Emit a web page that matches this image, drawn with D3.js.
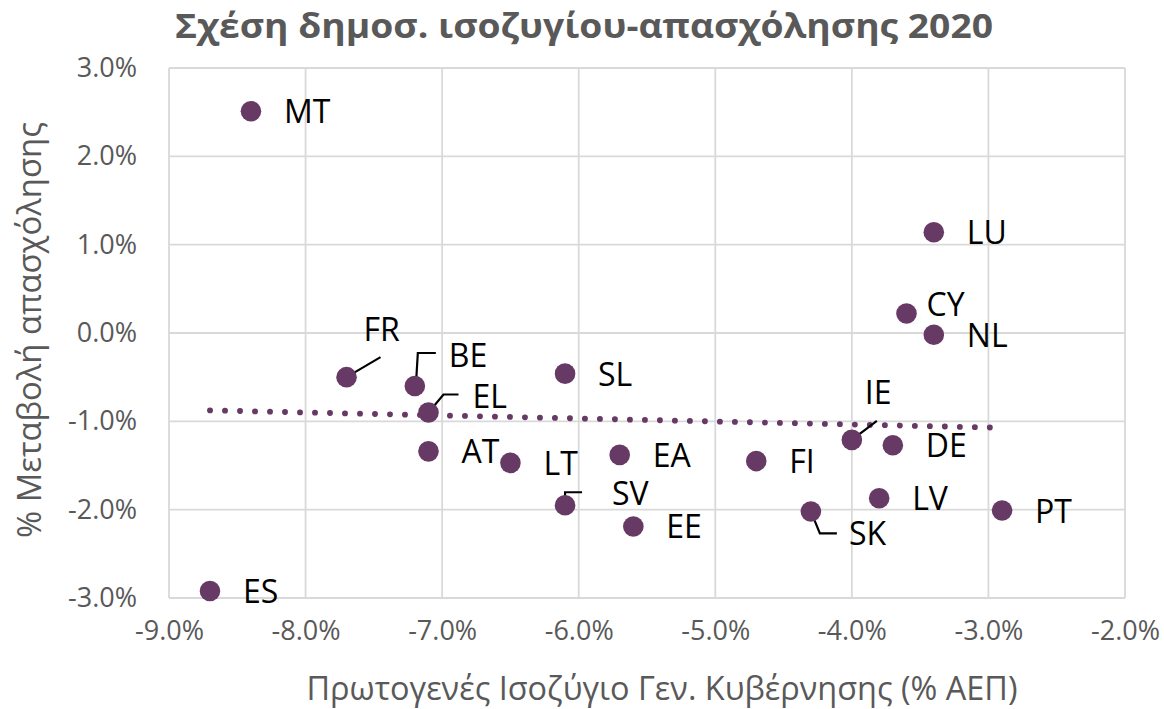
<!DOCTYPE html>
<html>
<head>
<meta charset="utf-8">
<script src="https://cdn.jsdelivr.net/npm/d3@7"></script>
<style>
  body { margin: 0; background: #fff; }
  text { font-family: "Open Sans", "Noto Sans", sans-serif; }
</style>
</head>
<body>
<div id="chart"></div>
<script>
// country codes, primary balance (% GDP) and change in employment (%)
var countries = ["MT", "ES", "FR", "BE", "EL", "AT", "LT", "SL", "SV", "EA",
                 "EE", "LU", "CY", "NL", "IE", "DE", "FI", "LV", "SK", "PT"];
var balance = [-8.4, -8.7, -7.7, -7.2, -7.1, -7.1, -6.5, -6.1, -6.1, -5.7,
               -5.6, -3.4, -3.6, -3.4, -4.0, -3.7, -4.7, -3.8, -4.3, -2.9];
var employment = [2.51, -2.92, -0.50, -0.60, -0.90, -1.34, -1.47, -0.46, -1.95, -1.38,
                  -2.19, 1.14, 0.22, -0.02, -1.21, -1.27, -1.45, -1.87, -2.02, -2.01];
var xTicks = [-9, -8, -7, -6, -5, -4, -3, -2];
var yTicks = [3, 2, 1, 0, -1, -2, -3];

var title = "Σχέση δημοσ. ισοζυγίου-απασχόλησης 2020";
var xTitle = "Πρωτογενές Ισοζύγιο Γεν. Κυβέρνησης (% ΑΕΠ)";
var yTitle = "% Μεταβολή απασχόλησης";

// label placement (dx, dy from point); default is right of the point
var labelPos = {
  FR: [17, -36], BE: [34, -19], EL: [44, -5], SV: [47, 0],
  CY: [20, 2], IE: [13, -36], SK: [38, 34]
};
// leader lines, as offsets from the point
var leaders = {
  FR: [[0, 0], [34, -20]],
  BE: [[1, 0], [3, -33], [21, -33]],
  EL: [[0, 0], [15, -18], [30, -18]],
  SV: [[0, 0], [0, -13], [17, -13]],
  IE: [[0, 0], [25, -19]],
  SK: [[0, 0], [9, 22], [26, 22]]
};

var width = 1164, height = 709;
var margin = {left: 169, right: 39, top: 68, bottom: 111};
var col = "#673965", grey = "#595959", gridCol = "#d9d9d9";
var pct = function (d) { return d.toFixed(1) + "%"; };

var svg = d3.select("#chart").append("svg")
            .attr("width", width)
            .attr("height", height);

svg.append("rect").attr("width", width).attr("height", height).attr("fill", "#fff");

var x = d3.scaleLinear().domain([-9, -2]).range([margin.left, width - margin.right]);
var y = d3.scaleLinear().domain([-3, 3]).range([height - margin.bottom, margin.top]);

// gridlines
svg.append("g").selectAll("line").data(xTicks).enter().append("line")
   .attr("x1", d => x(d)).attr("x2", d => x(d))
   .attr("y1", y(3)).attr("y2", y(-3))
   .attr("stroke", gridCol).attr("stroke-width", 1.8);
svg.append("g").selectAll("line").data(yTicks).enter().append("line")
   .attr("x1", x(-9)).attr("x2", x(-2))
   .attr("y1", d => y(d)).attr("y2", d => y(d))
   .attr("stroke", gridCol).attr("stroke-width", 1.8);

// axes (labels only)
var xAxis = svg.append("g")
               .attr("transform", "translate(0," + y(-3) + ")")
               .call(d3.axisBottom(x).tickValues(xTicks).tickSize(0).tickPadding(33)
                       .tickFormat(pct));
var yAxis = svg.append("g")
               .attr("transform", "translate(" + x(-9) + ",0)")
               .call(d3.axisLeft(y).tickValues(yTicks).tickSize(0).tickPadding(32)
                       .tickFormat(pct));
[xAxis, yAxis].forEach(function (a) {
  a.select(".domain").remove();
  a.selectAll("text").attr("fill", grey).attr("font-size", "27px")
   .style("font-family", "'Open Sans'");
});
xAxis.selectAll("text").attr("dy", "0.35em");

// trend line (least squares on the points)
var pts = balance.map((b, i) => [b, employment[i]]);
var mx = d3.mean(pts, d => d[0]), my = d3.mean(pts, d => d[1]);
var slope = d3.sum(pts, d => (d[0] - mx) * (d[1] - my)) / d3.sum(pts, d => (d[0] - mx) * (d[0] - mx));
var x0 = d3.min(balance), x1 = d3.max(balance);
svg.append("line")
   .attr("x1", x(x0)).attr("y1", y(my + slope * (x0 - mx)))
   .attr("x2", x(x1)).attr("y2", y(my + slope * (x1 - mx)))
   .attr("stroke", col).attr("stroke-width", 5.8)
   .attr("stroke-linecap", "round")
   .attr("stroke-dasharray", "0.1 14.9");

// leader lines
countries.forEach(function (c, i) {
  if (!leaders[c]) return;
  var px = x(balance[i]), py = y(employment[i]);
  svg.append("path")
     .attr("d", d3.line()(leaders[c].map(p => [px + p[0], py + p[1]])))
     .attr("fill", "none").attr("stroke", "#000").attr("stroke-width", 2.2);
});

// points
svg.append("g").selectAll("circle").data(countries).enter().append("circle")
   .attr("cx", (d, i) => x(balance[i]))
   .attr("cy", (d, i) => y(employment[i]))
   .attr("r", 10.3)
   .attr("fill", col);

// data labels
svg.append("g").selectAll("text").data(countries).enter().append("text")
   .attr("x", (d, i) => x(balance[i]) + (labelPos[d] ? labelPos[d][0] : 33))
   .attr("y", (d, i) => y(employment[i]) + (labelPos[d] ? labelPos[d][1] : 12))
   .attr("font-size", "32px")
   .attr("fill", "#000")
   .text(d => d);

// titles
svg.append("text")
   .attr("x", 584).attr("y", 38)
   .attr("text-anchor", "middle")
   .attr("font-size", "34px").attr("font-weight", "bold")
   .attr("textLength", 818).attr("lengthAdjust", "spacingAndGlyphs")
   .attr("fill", grey)
   .text(title);

svg.append("text")
   .attr("x", 662).attr("y", 700)
   .attr("text-anchor", "middle")
   .attr("font-size", "32px")
   .attr("textLength", 711).attr("lengthAdjust", "spacingAndGlyphs")
   .attr("fill", grey)
   .text(xTitle);

svg.append("text")
   .attr("transform", "translate(41,330) rotate(-90)")
   .attr("text-anchor", "middle")
   .attr("font-size", "32px")
   .attr("textLength", 416).attr("lengthAdjust", "spacingAndGlyphs")
   .attr("fill", grey)
   .text(yTitle);
</script>
</body>
</html>
